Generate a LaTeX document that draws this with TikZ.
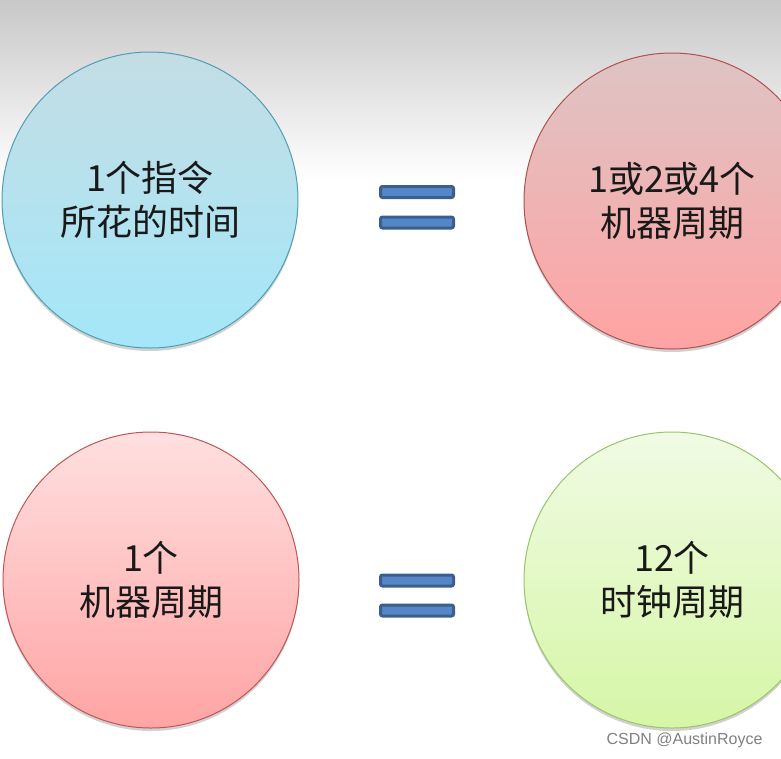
\documentclass[tikz,border=0pt]{standalone}
\usepackage{fontspec}
\newfontfamily\cjk{Noto Sans CJK SC}
\newfontfamily\wmfont{Liberation Sans}
\usepackage{tikz}
\usetikzlibrary{shadows}

\definecolor{bgtop}{RGB}{200,200,200}
\definecolor{tltop}{RGB}{196,221,228}
\definecolor{tlmid}{RGB}{200,239,249}
\definecolor{tlbot}{RGB}{164,231,249}
\definecolor{tlline}{RGB}{80,158,180}
\definecolor{trtop}{RGB}{222,196,196}
\definecolor{trmid}{RGB}{255,204,204}
\definecolor{trbot}{RGB}{255,163,163}
\definecolor{trline}{RGB}{176,80,80}
\definecolor{bltop}{RGB}{255,224,224}
\definecolor{blmid}{RGB}{255,202,202}
\definecolor{blbot}{RGB}{255,164,164}
\definecolor{blline}{RGB}{192,85,85}
\definecolor{brtop}{RGB}{240,251,228}
\definecolor{brmid}{RGB}{232,250,205}
\definecolor{brbot}{RGB}{214,246,166}
\definecolor{brline}{RGB}{154,196,106}
\definecolor{eqfill}{RGB}{84,135,200}
\definecolor{eqline}{RGB}{58,95,142}

\begin{document}
\begin{tikzpicture}[x=1pt, y=-1pt,
    ball/.style={circle, minimum size=296pt, inner sep=0pt, line width=1pt, align=center, text=black!90, font=\cjk\fontsize{36}{44}\selectfont, drop shadow={shadow xshift=0pt, shadow yshift=-3pt, opacity=0.3, fill=black!60}},
    bar/.style={draw=eqline, fill=eqfill, line width=3pt, rounded corners=2pt, minimum width=73pt, minimum height=11pt, inner sep=0pt},
    wmark/.style={font=\wmfont\fontsize{16}{16}\selectfont, text=black!50, anchor=east}
]
\clip (0,0) rectangle (781,758);
\fill[top color=bgtop, bottom color=white] (0,0) rectangle (781,180);

\node[ball, draw=tlline, top color=tltop, middle color=tlmid, bottom color=tlbot] (I) at (150,200) {1个指令\\所花的时间};
\node[ball, draw=trline, top color=trtop, middle color=trmid, bottom color=trbot] (M) at (672,201) {1或2或4个\\机器周期};
\node[ball, draw=blline, top color=bltop, middle color=blmid, bottom color=blbot] (C) at (151,580) {1个\\机器周期};
\node[ball, draw=brline, top color=brtop, middle color=brmid, bottom color=brbot] (K) at (672,580) {12个\\时钟周期};

% equals signs
\node[bar] (E1) at (417,192) {};
\node[bar] (E2) at (417,222.5) {};
\node[bar] (E3) at (417,580.5) {};
\node[bar] (E4) at (417,610.5) {};

\node[wmark] (W) at (766,740) {CSDN @AustinRoyce};
\end{tikzpicture}
\end{document}
